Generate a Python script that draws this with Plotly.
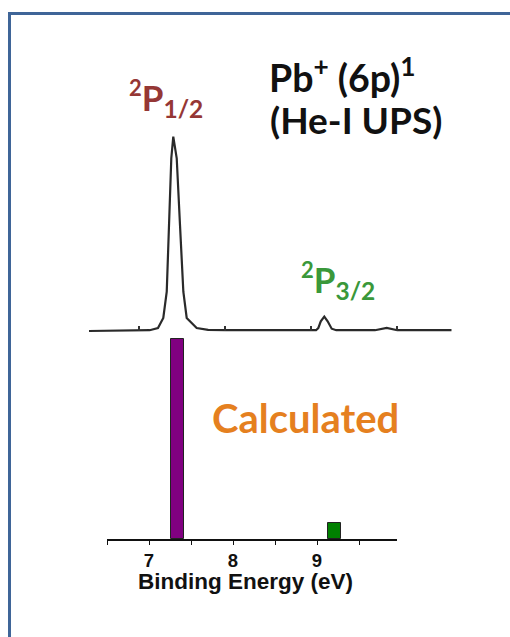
import plotly.graph_objects as go

W, H = 510, 637

# ---- data ----
spec_energy = [6.415, 6.70, 7.00, 7.12, 7.217, 7.279, 7.319, 7.349, 7.372, 7.395,
               7.435, 7.473, 7.512, 7.551, 7.667, 7.80, 8.00, 8.50, 8.95, 9.055,
               9.081, 9.11, 9.151, 9.19, 9.237, 9.29, 9.50, 9.74, 9.877, 10.00,
               10.30, 10.63]
spec_intensity = [0.000, 0.001, 0.002, 0.004, 0.015, 0.067, 0.202, 0.546, 0.889, 1.000,
                  0.889, 0.546, 0.202, 0.067, 0.015, 0.006, 0.004, 0.004, 0.003, 0.004,
                  0.015, 0.050, 0.074, 0.050, 0.012, 0.004, 0.004, 0.004, 0.016, 0.004,
                  0.004, 0.004]
spec_ticks = [7, 8, 9, 10]

calc_energy = [7.34, 9.21]
calc_intensity = [1.0, 0.08]
calc_colors = ["#800080", "#008000"]

x_ticks = [7, 8, 9]


def fx(px):
    return px / W


def fy(py):
    return 1 - py / H


fig = go.Figure()

fig.add_trace(go.Scatter(
    x=spec_energy, y=spec_intensity, mode="lines",
    line=dict(color="#2a2a2a", width=2.2, shape="linear"),
    xaxis="x2", yaxis="y2", showlegend=False, hoverinfo="skip"))

fig.add_trace(go.Bar(
    x=calc_energy, y=calc_intensity, width=0.15,
    marker=dict(color=calc_colors, line=dict(color="#222222", width=1)),
    xaxis="x", yaxis="y", showlegend=False))

base_y_bar = 539
top_y_bar = 339
yr_top = 1.02
dom_top = base_y_bar - (base_y_bar - top_y_bar) * yr_top

spec_base = 331
spec_top = 136.7
spec_lo = -0.02
spec_dom_bottom = spec_base + (spec_base - spec_top) * (-spec_lo)

fig.update_layout(
    width=W, height=H,
    margin=dict(l=0, r=0, t=0, b=0),
    template="none",
    paper_bgcolor="white",
    plot_bgcolor="rgba(0,0,0,0)",
    bargap=0,
    xaxis=dict(
        domain=[fx(107), fx(397)], range=[6.5, 6.5 + 290 / 84],
        anchor="y", showgrid=False, zeroline=False,
        showline=True, linecolor="#111111", linewidth=1.5,
        tickvals=x_ticks, ticks="outside", ticklen=4, tickwidth=1.2, tickcolor="#111111",
        minor=dict(ticks="outside", dtick=0.5, tick0=6.5, ticklen=4, tickwidth=1.2,
                   tickcolor="#111111", showgrid=False),
        tickfont=dict(family="Arial, Liberation Sans", size=18.5, color="#111111", weight="bold"),
        automargin=False, fixedrange=True),
    yaxis=dict(
        domain=[fy(base_y_bar), fy(dom_top)], range=[0, yr_top],
        anchor="x", visible=False, automargin=False, fixedrange=True),
    xaxis2=dict(
        domain=[fx(89), fx(452)], range=[6.415, 6.415 + 363 / 86],
        anchor="free", position=fy(spec_base),
        showgrid=False, zeroline=False, showline=False,
        tickvals=spec_ticks, ticks="inside", ticklen=5, tickwidth=1.5, tickcolor="#333333",
        showticklabels=False, automargin=False, fixedrange=True),
    yaxis2=dict(
        domain=[fy(spec_dom_bottom), fy(spec_top - 2)],
        range=[spec_lo, 1.0 + 2 / (spec_base - spec_top)],
        anchor="x2", visible=False, automargin=False, fixedrange=True),
)

# border lines (top and left)
fig.add_shape(type="line", xref="paper", yref="paper",
              x0=fx(8), x1=fx(510), y0=fy(13.5), y1=fy(13.5),
              line=dict(color="#3F6598", width=3))
fig.add_shape(type="line", xref="paper", yref="paper",
              x0=fx(9.5), x1=fx(9.5), y0=fy(12), y1=fy(637),
              line=dict(color="#3F6598", width=3))

label_font = "Lato"

fig.add_annotation(
    xref="paper", yref="paper", x=fx(267), y=fy(75), xanchor="left", yanchor="middle",
    text="Pb<sup>+</sup> (6p)<sup>1</sup>", showarrow=False, align="left",
    font=dict(family=label_font, size=37.5, color="#111111", weight="bold"))

fig.add_annotation(
    xref="paper", yref="paper", x=fx(268), y=fy(119), xanchor="left", yanchor="middle",
    text="(He-I UPS)", showarrow=False, align="left",
    font=dict(family=label_font, size=37, color="#111111", weight="bold"))

fig.add_annotation(
    xref="paper", yref="paper", x=fx(127), y=fy(98), xanchor="left", yanchor="middle",
    text="<sup><span style='font-size:22px'>2</span></sup>P<sub>1/2</sub>", showarrow=False,
    font=dict(family=label_font, size=35, color="#953735", weight="bold"))

fig.add_annotation(
    xref="paper", yref="paper", x=fx(299), y=fy(280), xanchor="left", yanchor="middle",
    text="<sup><span style='font-size:22px'>2</span></sup>P<sub>3/2</sub>", showarrow=False,
    font=dict(family=label_font, size=35, color="#3A983A", weight="bold"))

fig.add_annotation(
    xref="paper", yref="paper", x=fx(305), y=fy(418), xanchor="center", yanchor="middle",
    text="Calculated", showarrow=False,
    font=dict(family=label_font, size=40, color="#E5801F", weight="bold"))

fig.add_annotation(
    xref="paper", yref="paper", x=fx(245), y=fy(581), xanchor="center", yanchor="middle",
    text="Binding Energy (eV)", showarrow=False,
    font=dict(family="Arial, Liberation Sans", size=22.5, color="#111111", weight="bold"))

fig.write_html("out.html")
